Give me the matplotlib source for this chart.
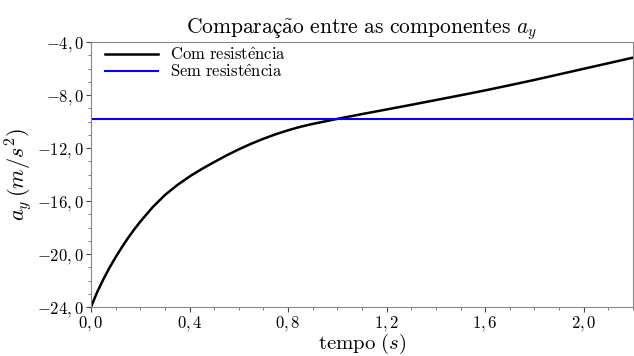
import matplotlib
matplotlib.use("Agg")
import matplotlib.pyplot as plt
from matplotlib.ticker import MultipleLocator, FuncFormatter

plt.rcParams['mathtext.fontset'] = 'cm'
plt.rcParams['font.family'] = ['cmr10', 'DejaVu Serif']
plt.rcParams['axes.unicode_minus'] = False

# Data
tempo = [0.0, 0.025, 0.05, 0.075, 0.1, 0.125, 0.15, 0.175, 0.2, 0.25, 0.3,
         0.35, 0.4, 0.45, 0.5, 0.55, 0.6, 0.65, 0.7, 0.75, 0.8, 0.85, 0.9,
         0.95, 1.0, 1.1, 1.2, 1.3, 1.4, 1.5, 1.6, 1.7, 1.8, 1.9, 2.0, 2.1, 2.2]
ay_com = [-24.0, -22.88, -21.92, -21.04, -20.24, -19.5, -18.8, -18.16, -17.56,
          -16.47, -15.55, -14.8, -14.15, -13.58, -13.06, -12.56, -12.10,
          -11.68, -11.30, -10.96, -10.66, -10.40, -10.18, -9.99, -9.80,
          -9.44, -9.09, -8.74, -8.38, -8.02, -7.65, -7.26, -6.86, -6.44,
          -6.02, -5.60, -5.18]
g_sem = -9.8

fig = plt.figure(figsize=(6.34, 3.56), dpi=100)
ax = fig.add_axes([0.1435, 0.1376, 0.855, 0.7444])

ax.plot(tempo, ay_com, color='black', lw=1.8,
        label=r'$\mathrm{Com\ resist\^{e}ncia}$')
ax.axhline(g_sem, color='#0000ff', lw=1.5,
           label=r'$\mathrm{Sem\ resist\^{e}ncia}$')

ax.set_xlim(0, 2.2)
ax.set_ylim(-24, -4)
ax.xaxis.set_major_locator(MultipleLocator(0.4))
ax.xaxis.set_minor_locator(MultipleLocator(0.1))
ax.yaxis.set_major_locator(MultipleLocator(4))
ax.yaxis.set_minor_locator(MultipleLocator(1))

fmt = FuncFormatter(lambda v, p: '$' + f'{v:.1f}'.replace('.', ',') + '$')
ax.xaxis.set_major_formatter(fmt)
ax.yaxis.set_major_formatter(fmt)

for s in ax.spines.values():
    s.set_color('#888888')
ax.tick_params(which='major', direction='out', length=3.5, width=0.8,
               color='#444444', labelsize=12, pad=1.5)
ax.tick_params(which='minor', direction='out', length=2, width=0.6, color='#666666')

ax.set_title(r'$\mathrm{Comparaç\~{a}o\ entre\ as\ componentes}\ a_y$',
             fontsize=15.5, pad=6)
ax.set_xlabel(r'$\mathrm{tempo}\ (s)$', fontsize=15, labelpad=-1)
ax.set_ylabel(r'$a_y\,(m/s^2)$', fontsize=16, labelpad=2)

ax.legend(loc='upper left', frameon=False, fontsize=12, handlelength=3.2,
          labelspacing=0.0, borderaxespad=0.0, handletextpad=0.7,
          borderpad=0.25, bbox_to_anchor=(0.018, 1.0))

fig.savefig('out.png', dpi=100)
